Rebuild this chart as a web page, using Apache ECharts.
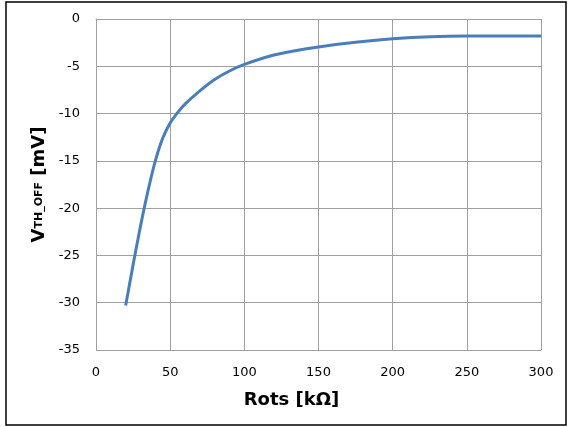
<!DOCTYPE html>
<html>
<head>
<meta charset="utf-8">
<script src="https://cdn.jsdelivr.net/npm/echarts@6/dist/echarts.min.js"></script>
<style>
html, body { margin: 0; padding: 0; background: #fff; }
#chart { width: 568px; height: 427px; }
</style>
</head>
<body>
<div id="chart"></div>
<script>
var rotsValues = [20, 25, 30, 35, 40, 45, 50, 55, 60, 70, 80, 90, 100, 120, 150, 200, 250, 300];
var vthOffValues = [-30.3, -26.0, -21.9, -18.2, -15.0, -12.6, -11.0, -9.9, -9.0, -7.6, -6.4, -5.5, -4.8, -3.8, -2.95, -2.1, -1.8, -1.8];

var xTicks = { min: 0, max: 300, step: 50 };
var yTicks = { min: -35, max: 0, step: 5 };

var fontFamily = '"DejaVu Sans", Verdana, sans-serif';
var gridColor = '#a0a0a0';

var points = [];
for (var i = 0; i < rotsValues.length; i++) {
	points.push([rotsValues[i], vthOffValues[i]]);
}

var chart = echarts.init(document.getElementById('chart'));

chart.setOption({
	animation: false,
	graphic: [{
		type: 'rect',
		shape: { x: 6, y: 2, width: 560, height: 423 },
		style: { fill: 'none', stroke: '#000', lineWidth: 1.5 },
		silent: true
	}],
	grid: {
		left: 96,
		right: 27,
		top: 19,
		bottom: 77,
		outerBoundsMode: 'none'
	},
	xAxis: {
		type: 'value',
		min: xTicks.min,
		max: xTicks.max,
		interval: xTicks.step,
		name: 'Rots [kΩ]',
		nameLocation: 'middle',
		nameGap: 41,
		nameTextStyle: {
			fontFamily: fontFamily,
			fontSize: 18,
			fontWeight: 'bold',
			color: '#000',
			padding: [0, 54, 0, 0]
		},
		axisLine: { lineStyle: { color: gridColor, width: 1 } },
		axisTick: { show: false },
		axisLabel: {
			fontFamily: fontFamily,
			fontSize: 13,
			color: '#000',
			margin: 16
		},
		splitLine: { show: true, lineStyle: { color: gridColor, width: 1 } }
	},
	yAxis: {
		type: 'value',
		min: yTicks.min,
		max: yTicks.max,
		interval: yTicks.step,
		name: '{v|V}{s|TH_OFF}{v| [mV]}',
		nameLocation: 'middle',
		nameRotate: 90,
		nameGap: 48,
		nameTextStyle: {
			color: '#000',
			rich: {
				v: { fontFamily: fontFamily, fontSize: 18, fontWeight: 'bold', color: '#000', verticalAlign: 'middle' },
				s: { fontFamily: fontFamily, fontSize: 11, fontWeight: 'bold', color: '#000', verticalAlign: 'middle' }
			}
		},
		axisLine: { show: true, lineStyle: { color: gridColor, width: 1 } },
		axisTick: { show: false },
		axisLabel: {
			fontFamily: fontFamily,
			fontSize: 13,
			color: '#000',
			margin: 16
		},
		splitLine: { show: true, lineStyle: { color: gridColor, width: 1 } }
	},
	series: [{
		type: 'line',
		data: points,
		showSymbol: false,
		smooth: 0.3,
		lineStyle: { color: '#4a7ebb', width: 3 },
		itemStyle: { color: '#4a7ebb' }
	}]
});
</script>
</body>
</html>
